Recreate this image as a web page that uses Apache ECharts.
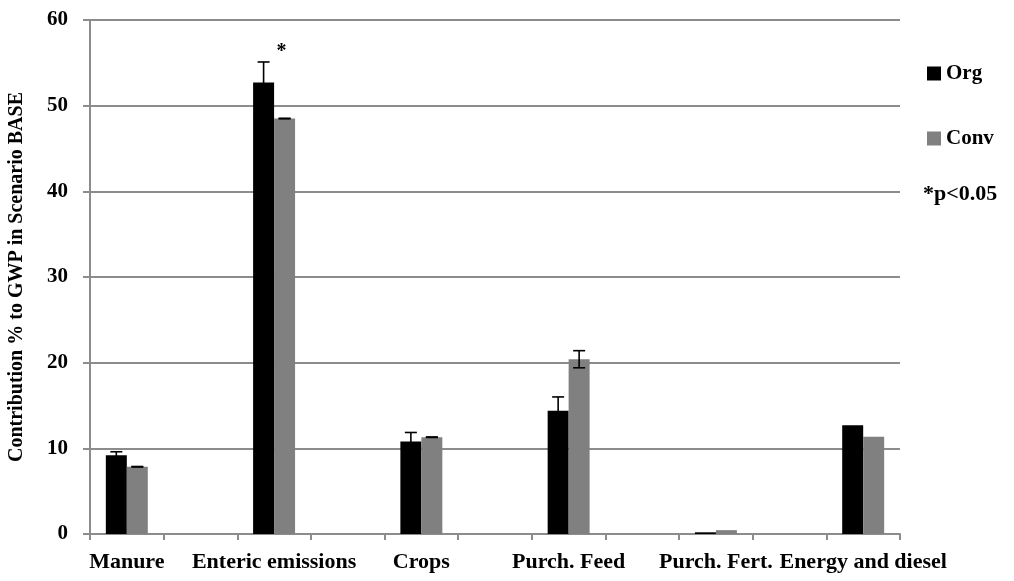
<!DOCTYPE html>
<html>
<head>
<meta charset="utf-8">
<script src="https://cdn.jsdelivr.net/npm/echarts@6/dist/echarts.min.js"></script>
<style>html,body{margin:0;padding:0;background:#fff}#c{width:1014px;height:581px}</style>
</head>
<body>
<div id="c"></div>
<script>
var categories = ['Manure', '', 'Enteric emissions', '', 'Crops', '', 'Purch. Feed', '', 'Purch. Fert.', '', 'Energy and diesel'];
var orgValues = [9.2, null, 52.7, null, 10.8, null, 14.4, null, 0.2, null, 12.7];
var convValues = [7.85, null, 48.5, null, 11.3, null, 20.4, null, 0.45, null, 11.35];
var orgErr = [0.4, null, 2.4, null, 1.05, null, 1.6, null, null, null, null];
var convErr = [0.03, null, 0.03, null, 0.03, null, 1.0, null, null, null, null];
var yTicks = [0, 10, 20, 30, 40, 50, 60];

var FONT = 'Liberation Serif';
var BAR_FRAC = 0.285;

function errSeries(values, errs, sign) {
  var data = [];
  for (var i = 0; i < values.length; i++) {
    if (values[i] != null && errs[i] != null) data.push([i, values[i], errs[i]]);
  }
  return {
    type: 'custom',
    z: 10,
    silent: true,
    data: data,
    renderItem: function (params, api) {
      var idx = api.value(0), v = api.value(1), e = api.value(2);
      var band = api.size([1, 0])[0];
      var off = sign * band * BAR_FRAC / 2;
      var top = api.coord([idx, v + e]);
      var bot = api.coord([idx, v - e]);
      var x = top[0] + off;
      var half = 6;
      var st = { stroke: '#000', lineWidth: 1.6 };
      return {
        type: 'group',
        children: [
          { type: 'line', shape: { x1: x, y1: top[1], x2: x, y2: bot[1] }, style: st },
          { type: 'line', shape: { x1: x - half, y1: top[1], x2: x + half, y2: top[1] }, style: st },
          { type: 'line', shape: { x1: x - half, y1: bot[1], x2: x + half, y2: bot[1] }, style: st }
        ]
      };
    }
  };
}

var chart = echarts.init(document.getElementById('c'), null, { renderer: 'canvas' });
chart.setOption({
  animation: false,
  backgroundColor: '#fff',
  textStyle: { fontFamily: FONT, color: '#000', fontWeight: 'bold' },
  grid: { left: 90, right: 114, top: 20, bottom: 47, containLabel: false, outerBoundsMode: 'none' },
  legend: {
    orient: 'vertical',
    left: 927,
    top: 63,
    padding: 0,
    itemWidth: 14,
    itemHeight: 14,
    itemGap: 44,
    icon: 'rect',
    selectedMode: false,
    textStyle: { fontFamily: FONT, fontWeight: 'bold', fontSize: 21, color: '#000' },
    data: ['Org', 'Conv']
  },
  graphic: [{
    type: 'text',
    left: 923,
    top: 183,
    style: { text: '*p<0.05', fontFamily: FONT, fontWeight: 'bold', fontSize: 22, fill: '#000' }
  }],
  xAxis: {
    type: 'category',
    data: categories,
    axisLine: { lineStyle: { color: '#8c8c8c', width: 2 } },
    axisTick: { show: true, interval: 0, length: 6, lineStyle: { color: '#8c8c8c', width: 2 } },
    axisLabel: { interval: 0, margin: 17, fontFamily: FONT, fontWeight: 'bold', fontSize: 22, color: '#000' },
    splitLine: { show: false }
  },
  yAxis: {
    type: 'value',
    min: 0,
    max: 60,
    interval: 10,
    name: 'Contribution % to GWP in Scenario BASE',
    nameLocation: 'middle',
    nameRotate: 90,
    nameGap: 63,
    nameMoveOverlap: false,
    nameTextStyle: { fontFamily: FONT, fontWeight: 'bold', fontSize: 20, color: '#000' },
    axisLine: { show: true, lineStyle: { color: '#8c8c8c', width: 2 } },
    axisTick: { show: true, length: 7, lineStyle: { color: '#8c8c8c', width: 2 } },
    axisLabel: {
      margin: 22, fontFamily: FONT, fontWeight: 'bold', fontSize: 21, color: '#000',
      formatter: function (v) { return yTicks.indexOf(v) >= 0 ? String(v) : ''; }
    },
    splitLine: { show: true, lineStyle: { color: '#8c8c8c', width: 2 } }
  },
  series: [
    {
      name: 'Org', type: 'bar', data: orgValues, barWidth: (BAR_FRAC * 100) + '%', barGap: '0%',
      itemStyle: { color: '#000000' },
      markPoint: {
        symbol: 'circle', symbolSize: 0,
        data: [{ coord: [2, 56.6] }],
        label: { show: true, position: 'inside', offset: [18, 3], formatter: '*', fontFamily: FONT, fontWeight: 'bold', fontSize: 20, color: '#000' }
      }
    },
    {
      name: 'Conv', type: 'bar', data: convValues, barWidth: (BAR_FRAC * 100) + '%', barGap: '0%',
      itemStyle: { color: '#808080' }
    },
    errSeries(orgValues, orgErr, -1),
    errSeries(convValues, convErr, 1)
  ]
});
</script>
</body>
</html>
